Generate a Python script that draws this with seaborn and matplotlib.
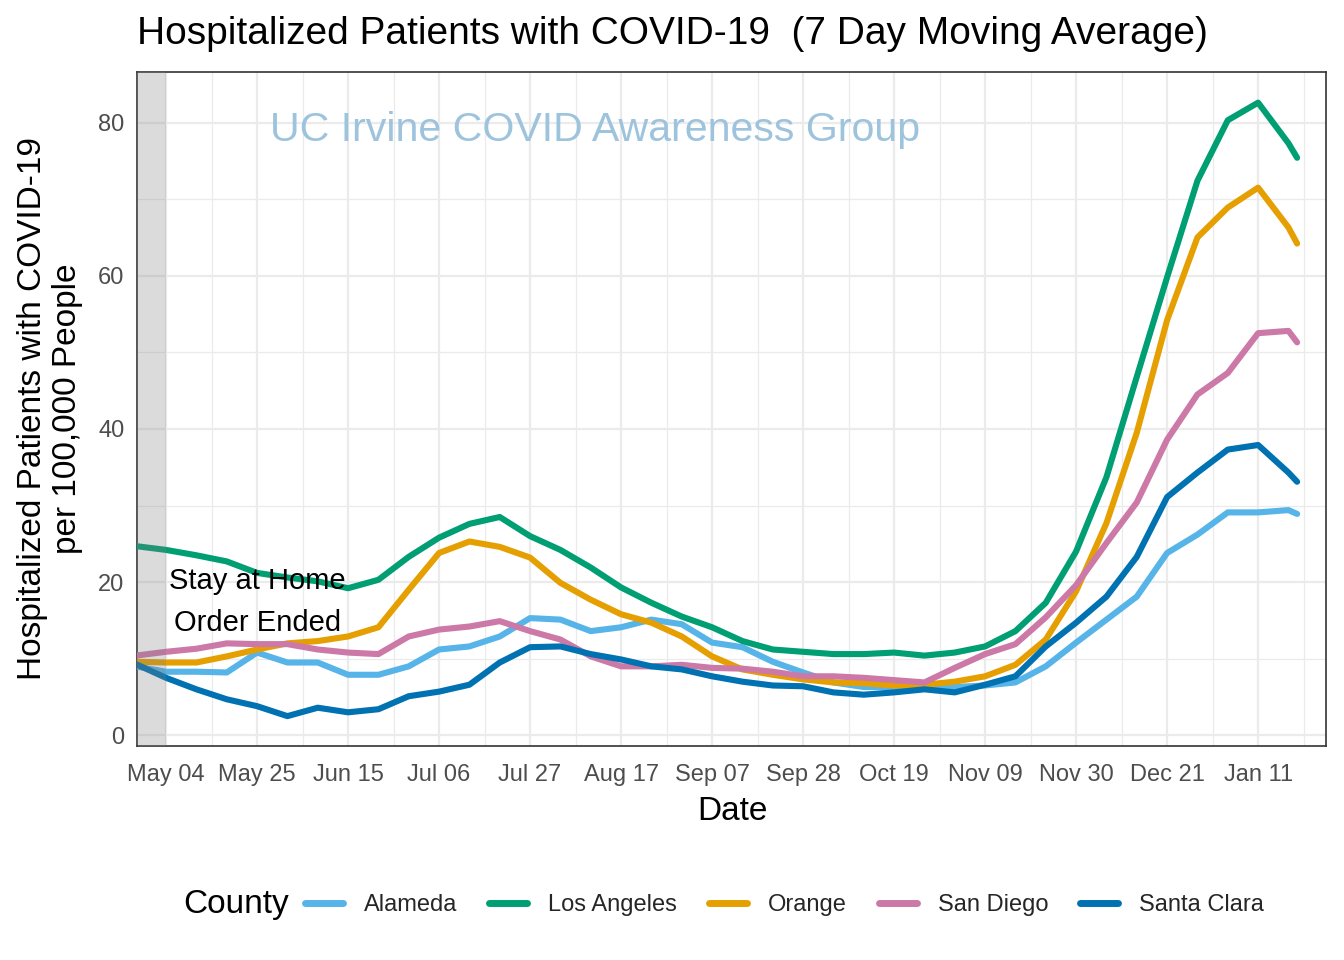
import matplotlib
matplotlib.use("Agg")
import matplotlib.pyplot as plt
from matplotlib.lines import Line2D
import seaborn as sns
import pandas as pd

dates = ["2020-04-27", "2020-05-04", "2020-05-11", "2020-05-18", "2020-05-25",
         "2020-06-01", "2020-06-08", "2020-06-15", "2020-06-22", "2020-06-29",
         "2020-07-06", "2020-07-13", "2020-07-20", "2020-07-27", "2020-08-03",
         "2020-08-10", "2020-08-17", "2020-08-24", "2020-08-31", "2020-09-07",
         "2020-09-14", "2020-09-21", "2020-09-28", "2020-10-05", "2020-10-12",
         "2020-10-19", "2020-10-26", "2020-11-02", "2020-11-09", "2020-11-16",
         "2020-11-23", "2020-11-30", "2020-12-07", "2020-12-14", "2020-12-21",
         "2020-12-28", "2021-01-04", "2021-01-11", "2021-01-18", "2021-01-20"]

alameda = [9.0, 8.3, 8.3, 8.2, 10.8, 9.5, 9.5, 7.9, 7.9, 9.0,
           11.2, 11.6, 12.9, 15.3, 15.1, 13.6, 14.1, 15.1, 14.5, 12.1,
           11.5, 9.6, 8.2, 6.9, 6.3, 6.3, 6.3, 6.3, 6.5, 6.9,
           9.0, 12.1, 15.1, 18.1, 23.8, 26.2, 29.1, 29.1, 29.4, 28.9]
los_angeles = [24.7, 24.2, 23.5, 22.7, 21.2, 20.6, 20.1, 19.2, 20.3, 23.3,
               25.8, 27.6, 28.5, 26.0, 24.2, 21.9, 19.3, 17.3, 15.5, 14.1,
               12.3, 11.2, 10.9, 10.6, 10.6, 10.8, 10.4, 10.8, 11.6, 13.6,
               17.3, 24.0, 33.7, 46.8, 59.8, 72.4, 80.3, 82.6, 77.3, 75.4]
orange = [9.6, 9.5, 9.5, 10.3, 11.2, 12.0, 12.3, 12.9, 14.1, 19.0,
          23.8, 25.3, 24.6, 23.2, 19.9, 17.7, 15.8, 14.7, 12.9, 10.3,
          8.6, 7.9, 7.3, 6.9, 6.8, 6.5, 6.6, 7.0, 7.7, 9.2,
          12.5, 18.8, 27.7, 39.5, 54.2, 65.0, 68.9, 71.5, 66.3, 64.2]
san_diego = [10.4, 10.9, 11.3, 12.0, 11.9, 11.9, 11.2, 10.8, 10.6, 12.9,
             13.8, 14.2, 14.9, 13.6, 12.5, 10.3, 9.0, 9.0, 9.2, 8.8,
             8.7, 8.3, 7.7, 7.7, 7.5, 7.2, 6.9, 8.8, 10.6, 11.9,
             15.4, 19.6, 25.1, 30.4, 38.6, 44.5, 47.3, 52.5, 52.8, 51.3]
santa_clara = [9.3, 7.5, 6.0, 4.7, 3.8, 2.5, 3.6, 3.0, 3.4, 5.1,
               5.7, 6.6, 9.5, 11.5, 11.6, 10.6, 9.9, 9.0, 8.6, 7.7,
               7.0, 6.5, 6.4, 5.6, 5.3, 5.6, 6.0, 5.6, 6.6, 7.7,
               11.6, 14.7, 18.1, 23.3, 31.1, 34.3, 37.3, 37.9, 34.3, 33.1]

counties = ["Alameda", "Los Angeles", "Orange", "San Diego", "Santa Clara"]
colors = ["#56B4E9", "#009E73", "#E69F00", "#CC79A7", "#0072B2"]
tick_dates = ["2020-05-04", "2020-05-25", "2020-06-15", "2020-07-06", "2020-07-27",
              "2020-08-17", "2020-09-07", "2020-09-28", "2020-10-19", "2020-11-09",
              "2020-11-30", "2020-12-21", "2021-01-11"]
y_ticks = [0, 20, 40, 60, 80]

series = [alameda, los_angeles, orange, san_diego, santa_clara]
frames = []
for name, vals in zip(counties, series):
    frames.append(pd.DataFrame({"Date": pd.to_datetime(dates), "Value": vals, "County": name}))
df = pd.concat(frames, ignore_index=True)
palette = dict(zip(counties, colors))

sns.set_style("white")
plt.rcParams["font.family"] = ["Liberation Sans", "DejaVu Sans"]

W, H = 1344, 960
fig = plt.figure(figsize=(W / 100, H / 100), dpi=100)
L, R, T, B = 137, 1326, 72, 746
ax = fig.add_axes([L / W, 1 - B / H, (R - L) / W, (B - T) / H])

sns.lineplot(data=df, x="Date", y="Value", hue="County", hue_order=counties,
             palette=palette, linewidth=4.4, ax=ax, legend=False, zorder=3)

x0 = pd.Timestamp("2020-04-27 07:00")
x1 = pd.Timestamp("2021-01-26 16:00")

ticks = pd.to_datetime(tick_dates)
ax.set_xticks(ticks)
ax.set_xticklabels([t.strftime("%b %d") for t in ticks])
minor = [t + pd.Timedelta(hours=252) for t in ticks]
ax.set_xticks(minor, minor=True)
ax.set_yticks(y_ticks)
ax.set_yticks([10, 30, 50, 70], minor=True)
ax.set_xlim(x0, x1)
ax.set_ylim(-1.4, 86.6)

ax.grid(True, which="major", color="#EBEBEB", linewidth=1.6, zorder=0)
ax.grid(True, which="minor", color="#EBEBEB", linewidth=0.9, zorder=0)
ax.set_axisbelow(True)
for s in ax.spines.values():
    s.set_color("#333333")
    s.set_linewidth(1.2)
ax.tick_params(axis="both", which="major", direction="out", length=5, width=1.2,
               color="#333333", labelcolor="#4D4D4D", labelsize=17, pad=4)
ax.tick_params(axis="x", which="major", pad=8)
ax.tick_params(axis="both", which="minor", length=0)
ax.set_xlabel("")
ax.set_ylabel("")

ax.axvspan(x0, pd.Timestamp("2020-05-04"), color="#808080", alpha=0.28, zorder=4, lw=0)

ax.text(pd.Timestamp("2020-05-25"), 20.2, "Stay at Home", ha="center", va="center",
        fontsize=21, color="black", zorder=5)
ax.text(pd.Timestamp("2020-05-25"), 14.7, "Order Ended", ha="center", va="center",
        fontsize=21, color="black", zorder=5)
ax.text(pd.Timestamp("2020-08-11"), 79.0, "UC Irvine COVID Awareness Group",
        ha="center", va="center", fontsize=29.6, color="#9DC3DD", zorder=2)

fig.text(L / W, 1 - 34 / H, "Hospitalized Patients with COVID-19  (7 Day Moving Average)",
         ha="left", va="center", fontsize=28, color="black")
fig.text(50 / W, 1 - 409 / H, "Hospitalized Patients with COVID-19\nper 100,000 People",
         ha="center", va="center", rotation=90, fontsize=24, color="black",
         multialignment="center")
fig.text(732 / W, 1 - 812 / H, "Date", ha="center", va="center", fontsize=24, color="black")

fig.text(183 / W, 1 - 905 / H, "County", ha="left", va="center", fontsize=24, color="black")
handles = [Line2D([0], [0], color=c, lw=5) for c in colors]
fig.legend(handles, counties, loc="center left", bbox_to_anchor=(305 / W, 1 - 905 / H),
           ncol=5, frameon=False, fontsize=17, handlelength=1.6, handletextpad=0.9,
           columnspacing=1.35, borderpad=0, borderaxespad=0)

fig.savefig("out.png", dpi=100)
